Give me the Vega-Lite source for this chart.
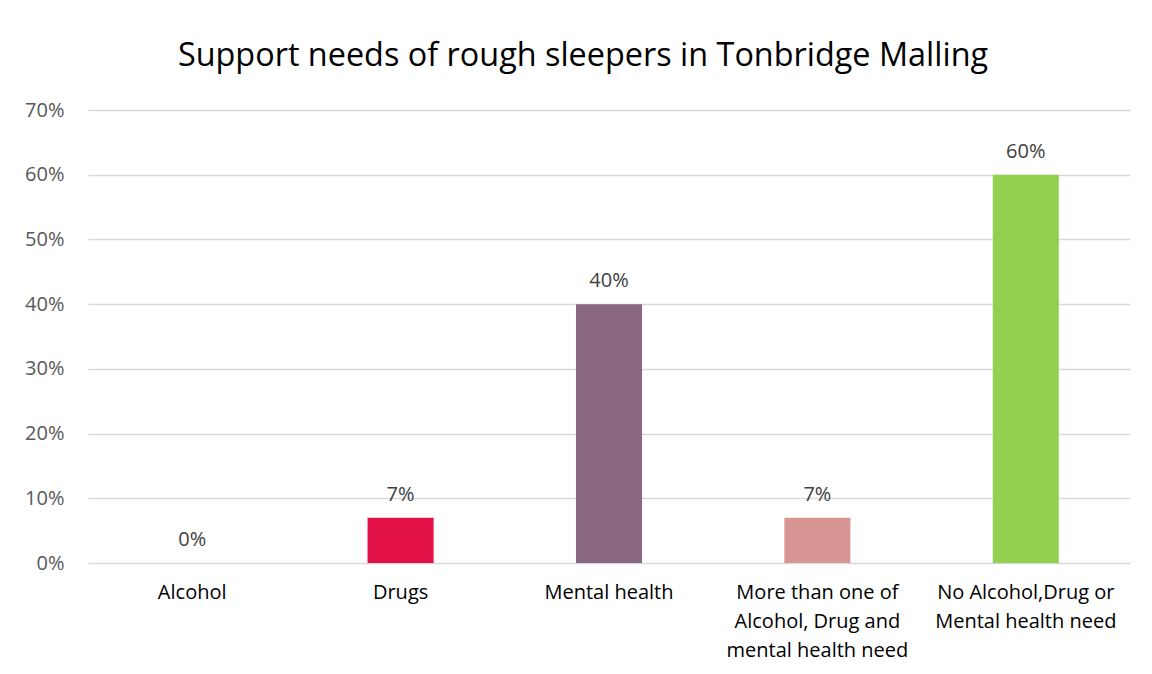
{
  "$schema": "https://vega.github.io/schema/vega-lite/v6.json",
  "autosize": "none",
  "width": 1042,
  "height": 453,
  "padding": {"left": 88, "top": 110, "right": 22, "bottom": 111},
  "background": "white",
  "config": {"view": {"stroke": null}, "font": "Open Sans"},
  "title": {
    "text": "Support needs of rough sleepers in Tonbridge Malling",
    "font": "Open Sans",
    "fontSize": 32.4,
    "fontWeight": "normal",
    "color": "#000000",
    "anchor": "middle",
    "baseline": "alphabetic",
    "offset": 2,
    "dx": -26
  },
  "data": {
    "values": [
      {"need": "Alcohol", "share": 0},
      {"need": "Drugs", "share": 0.07},
      {"need": "Mental health", "share": 0.40},
      {"need": "More than one of Alcohol, Drug and mental health need", "share": 0.07},
      {"need": "No Alcohol,Drug or Mental health need", "share": 0.60}
    ]
  },
  "encoding": {
    "x": {
      "field": "need",
      "type": "nominal",
      "sort": null,
      "scale": {"paddingInner": 0.683, "paddingOuter": 0.3415},
      "axis": {
        "title": null,
        "domain": false,
        "ticks": false,
        "labelAngle": 0,
        "labelFont": "Open Sans",
        "labelFontSize": 20,
        "labelColor": "#000000",
        "labelPadding": 19,
        "labelLineHeight": 29,
        "labelBaseline": "top",
        "labelLimit": 300,
        "labelExpr": "datum.value == 'More than one of Alcohol, Drug and mental health need' ? ['More than one of', 'Alcohol, Drug and', 'mental health need'] : datum.value == 'No Alcohol,Drug or Mental health need' ? ['No Alcohol,Drug or', 'Mental health need'] : datum.value"
      }
    },
    "y": {
      "field": "share",
      "type": "quantitative",
      "scale": {"domain": [0, 0.7]},
      "axis": {
        "title": null,
        "format": ".0%",
        "values": [0, 0.1, 0.2, 0.3, 0.4, 0.5, 0.6, 0.7],
        "domain": false,
        "ticks": false,
        "grid": true,
        "gridColor": "#D9D9D9",
        "gridWidth": 1.3,
        "labelFont": "Open Sans",
        "labelFontSize": 20,
        "labelColor": "#595959",
        "labelPadding": 24
      }
    }
  },
  "layer": [
    {
      "mark": {"type": "bar"},
      "encoding": {
        "color": {
          "field": "need",
          "type": "nominal",
          "legend": null,
          "scale": {
            "domain": ["Alcohol", "Drugs", "Mental health", "More than one of Alcohol, Drug and mental health need", "No Alcohol,Drug or Mental health need"],
            "range": ["#4F81BD", "#E11148", "#8A6882", "#D99594", "#92D050"]
          }
        }
      }
    },
    {
      "mark": {"type": "text", "dy": -17, "baseline": "alphabetic", "font": "Open Sans", "fontSize": 20, "color": "#404040"},
      "encoding": {
        "text": {"field": "share", "type": "quantitative", "format": ".0%"}
      }
    }
  ]
}
